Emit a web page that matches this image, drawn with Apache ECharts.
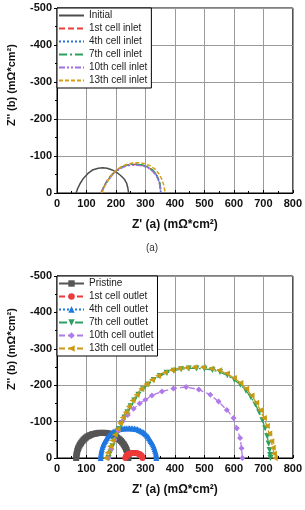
<!DOCTYPE html>
<html><head><meta charset="utf-8">
<script src="https://cdn.jsdelivr.net/npm/echarts@6/dist/echarts.min.js"></script>
<style>html,body{margin:0;padding:0;background:#fff}#c{width:305px;height:510px}</style>
</head><body><div id="c"></div>
<script>
// ---------- data (Z' , -Z'') ----------
const xAxisRange = [0, 800];
const yAxisRange = [-500, 0];
const xAxisTitle = "Z' (a) (mΩ*cm²)";
const yAxisTitle = "Z'' (b) (mΩ*cm²)";

const inletNames = ['Initial', '1st cell inlet', '4th cell inlet', '7th cell inlet', '10th cell inlet', '13th cell inlet'];
const outletNames = ['Pristine', '1st cell outlet', '4th cell outlet', '7th cell outlet', '10th cell outlet', '13th cell outlet'];

const initialData = [[65,0],[70,-12],[78,-25],[90,-40],[105,-53],[120,-62],[140,-67],[155,-68],[170,-67],[185,-63],[200,-57],[215,-48],[228,-38],[236,-27],[240,-15],[242,-5],[243,0]];
const inlet1 = [[149,0],[159,-18],[171,-35],[184,-48],[199,-60],[214,-68],[230,-74],[250,-77],[270,-77],[290,-75],[310,-69],[324,-61],[336,-50],[344,-37],[349,-22],[351,-10],[352,0]];
const inlet4 = [[150,0],[160,-18],[172,-34],[185,-47],[200,-59],[215,-67],[232,-73],[252,-77],[272,-77],[292,-74],[310,-69],[325,-60],[336,-50],[343,-40],[348,-28],[350,-15],[352,0]];
const inlet7 = [[150,0],[160,-18],[172,-35],[185,-48],[200,-60],[215,-68],[230,-74],[250,-78],[270,-78],[290,-76],[310,-70],[325,-62],[337,-50],[345,-37],[350,-22],[352,-10],[353,0]];
const inlet10 = [[150,0],[160,-17],[172,-33],[185,-46],[200,-58],[215,-66],[232,-72],[252,-75],[272,-75],[292,-73],[310,-67],[325,-58],[337,-47],[344,-34],[349,-20],[351,-8],[352,0]];
const inlet13 = [[152,0],[162,-18],[174,-35],[187,-50],[202,-62],[218,-71],[235,-77],[255,-81],[275,-82],[295,-80],[315,-74],[332,-65],[345,-53],[355,-38],[362,-22],[365,-10],[367,0]];

const pristineData = [[65,0],[66,-5],[66,-10],[68,-15],[69,-20],[71,-25],[73,-29],[76,-34],[79,-38],[82,-42],[86,-46],[90,-50],[94,-53],[98,-56],[103,-59],[108,-61],[113,-63],[119,-65],[124,-66],[130,-67],[135,-68],[141,-69],[147,-69],[153,-69],[159,-69],[165,-69],[171,-68],[177,-67],[183,-65],[189,-63],[194,-61],[199,-59],[204,-56],[209,-53],[213,-50],[217,-47],[221,-43],[225,-39],[228,-35],[231,-31],[234,-26],[236,-22],[238,-17],[240,-13],[241,-8],[242,-4],[242,0]];
const outlet1 = [[232,0],[233,-2],[234,-4],[235,-6],[237,-7],[239,-9],[241,-10],[244,-11],[246,-12],[249,-13],[252,-13],[255,-14],[258,-14],[261,-14],[264,-14],[267,-14],[270,-13],[273,-13],[276,-12],[279,-11],[281,-10],[283,-9],[285,-7],[287,-6],[288,-4],[289,-2],[290,0]];
const outlet4 = [[148,0],[148,-5],[149,-10],[150,-15],[151,-20],[152,-25],[154,-30],[156,-35],[158,-39],[160,-43],[163,-47],[166,-51],[169,-55],[172,-59],[176,-62],[180,-65],[184,-68],[188,-71],[193,-73],[198,-75],[203,-77],[208,-79],[213,-80],[219,-81],[224,-81],[230,-82],[235,-82],[241,-82],[246,-82],[252,-82],[257,-81],[263,-81],[268,-80],[273,-79],[278,-77],[283,-75],[288,-73],[293,-71],[297,-68],[301,-65],[305,-62],[309,-59],[312,-55],[315,-51],[318,-47],[321,-43],[324,-39],[327,-35],[329,-30],[331,-25],[333,-20],[335,-15],[336,-10],[337,-5],[337,0]];
const outlet7 = [[175,0],[181,-15],[188,-32],[195,-48],[203,-64],[211,-80],[220,-96],[229,-111],[239,-126],[250,-142],[262,-158],[276,-174],[292,-189],[309,-202],[328,-214],[349,-225],[372,-234],[396,-240],[421,-244],[447,-246],[473,-246],[500,-245],[527,-242],[553,-236],[578,-227],[601,-215],[622,-201],[641,-185],[658,-167],[673,-147],[686,-126],[697,-104],[706,-82],[713,-60],[718,-40],[721,-22],[723,-8],[724,0]];
const outlet10 = [[175,0],[185,-25],[195,-50],[208,-75],[222,-100],[240,-118],[260,-135],[280,-150],[300,-160],[322,-172],[356,-183],[395,-191],[438,-195],[481,-188],[520,-174],[548,-155],[576,-132],[599,-110],[610,-82],[621,-55],[626,-27],[629,0]];
const outlet13 = [[165,0],[172,-15],[180,-32],[188,-48],[196,-64],[205,-80],[214,-96],[223,-111],[233,-126],[244,-142],[256,-158],[270,-174],[286,-190],[303,-203],[322,-215],[343,-226],[366,-235],[390,-242],[415,-246],[440,-248],[467,-249],[495,-249],[523,-246],[550,-241],[576,-232],[600,-220],[622,-206],[642,-190],[660,-172],[676,-152],[690,-131],[702,-110],[712,-88],[720,-67],[727,-46],[732,-28],[736,-12],[739,0]];

// ---------- styles ----------
const FONT = '"Liberation Sans", Arial, sans-serif';
const inletStyles = [
  {color:'#4d4d4d', type:'solid'},
  {color:'#e8403a', type:[6,3]},
  {color:'#2b6fd6', type:[2,2]},
  {color:'#2ca05a', type:[8,3,2,3]},
  {color:'#a070e0', type:[6,2,2,2,2,2]},
  {color:'#d4a017', type:[4,2]}
];
const outletStyles = [
  {color:'#555555', type:'solid', symbol:'rect', size:6},
  {color:'#ee3a3a', type:[6,3], symbol:'circle', size:6},
  {color:'#1f77e0', type:[2,2], symbol:'triangle', size:6},
  {color:'#2ca060', type:[8,3,2,3], symbol:'path://M0,0 L10,0 L5,9 Z', size:6},
  {color:'#b07ae8', type:[6,3], symbol:'diamond', size:6},
  {color:'#c99a12', type:[6,3], symbol:'path://M0,5 L9,0 L9,10 Z', size:6}
];

const inletData = [initialData, inlet1, inlet4, inlet7, inlet10, inlet13];
const outletData = [pristineData, outlet1, outlet4, outlet7, outlet10, outlet13];

function xAxisCfg(gi) {
  return {
    type:'value', gridIndex:gi, min:xAxisRange[0], max:xAxisRange[1], interval:100,
    name:xAxisTitle, nameLocation:'middle', nameGap:26,
    nameTextStyle:{fontWeight:'bold', fontSize:12, color:'#111', fontFamily:FONT},
    axisLine:{show:true, onZero:false, lineStyle:{color:'#000', width:1}},
    axisTick:{show:true, inside:true, length:3, lineStyle:{color:'#000'}},
    minorTick:{show:true, splitNumber:2, length:2, lineStyle:{color:'#000'}},
    axisLabel:{fontWeight:'bold', fontSize:11, color:'#111', margin:5, fontFamily:FONT},
    splitLine:{show:true, lineStyle:{color:'#9a9a9a', width:1}}
  };
}
function yAxisCfg(gi) {
  return {
    type:'value', gridIndex:gi, min:yAxisRange[0], max:yAxisRange[1], interval:100, inverse:true,
    axisLine:{show:true, onZero:false, lineStyle:{color:'#000', width:1}},
    axisTick:{show:true, inside:false, length:3, lineStyle:{color:'#000'}},
    minorTick:{show:true, splitNumber:2, length:2, lineStyle:{color:'#000'}},
    axisLabel:{fontWeight:'bold', fontSize:11, color:'#111', margin:5, fontFamily:FONT},
    splitLine:{show:true, lineStyle:{color:'#9a9a9a', width:1}}
  };
}
function legendCfg(names, top, hideSymbol) {
  const cfg = {
    data:names, orient:'vertical', left:57, top:top,
    itemWidth:25, itemHeight:8, itemGap:0, padding:[1,4,1,1],
    backgroundColor:'#fff', borderColor:'#000', borderWidth:1, borderRadius:0,
    selectedMode:false,
    textStyle:{fontSize:10, color:'#222', lineHeight:13, fontFamily:FONT}
  };
  if (hideSymbol) {
    cfg.itemStyle = {color:'rgba(0,0,0,0)', borderColor:'rgba(0,0,0,0)', borderWidth:0};
  }
  return cfg;
}

const series = [];
inletNames.forEach((n, i) => {
  series.push({
    name:n, type:'line', xAxisIndex:0, yAxisIndex:0, data:inletData[i],
    symbol:'none', smooth:false,
    lineStyle:{color:inletStyles[i].color, width:1.5, type:inletStyles[i].type},
    itemStyle:{color:inletStyles[i].color}
  });
});
outletNames.forEach((n, i) => {
  series.push({
    name:n, type:'line', xAxisIndex:1, yAxisIndex:1, data:outletData[i],
    symbol:outletStyles[i].symbol, symbolSize:outletStyles[i].size, showSymbol:true,
    lineStyle:{color:outletStyles[i].color, width:1.3, type:outletStyles[i].type},
    itemStyle:{color:outletStyles[i].color}
  });
});

const chart = echarts.init(document.getElementById('c'), null, {renderer:'canvas'});
chart.setOption({
  animation:false,
  backgroundColor:'#fff',
  textStyle:{fontFamily:FONT},
  grid:[
    {left:57, top:8, width:238, height:185, show:true, borderColor:'#000', borderWidth:1, backgroundColor:'transparent'},
    {left:57, top:276, width:238, height:182, show:true, borderColor:'#000', borderWidth:1, backgroundColor:'transparent'}
  ],
  xAxis:[xAxisCfg(0), xAxisCfg(1)],
  yAxis:[yAxisCfg(0), yAxisCfg(1)],
  legend:[legendCfg(inletNames, 8, true), legendCfg(outletNames, 276, false)],
  series:series,
  graphic:[
    {type:'text', x:12, y:85, rotation:Math.PI/2, style:{text:yAxisTitle, font:'bold 11px ' + FONT, fill:'#111', align:'center', verticalAlign:'middle', textAlign:'center', textVerticalAlign:'middle'}},
    {type:'text', x:12, y:349, rotation:Math.PI/2, style:{text:yAxisTitle, font:'bold 11px ' + FONT, fill:'#111', align:'center', verticalAlign:'middle', textAlign:'center', textVerticalAlign:'middle'}},
    {type:'text', x:152, y:248, style:{text:'(a)', font:'10px ' + FONT, fill:'#333', align:'center', verticalAlign:'middle', textAlign:'center', textVerticalAlign:'middle'}}
  ]
});
</script>
</body></html>
